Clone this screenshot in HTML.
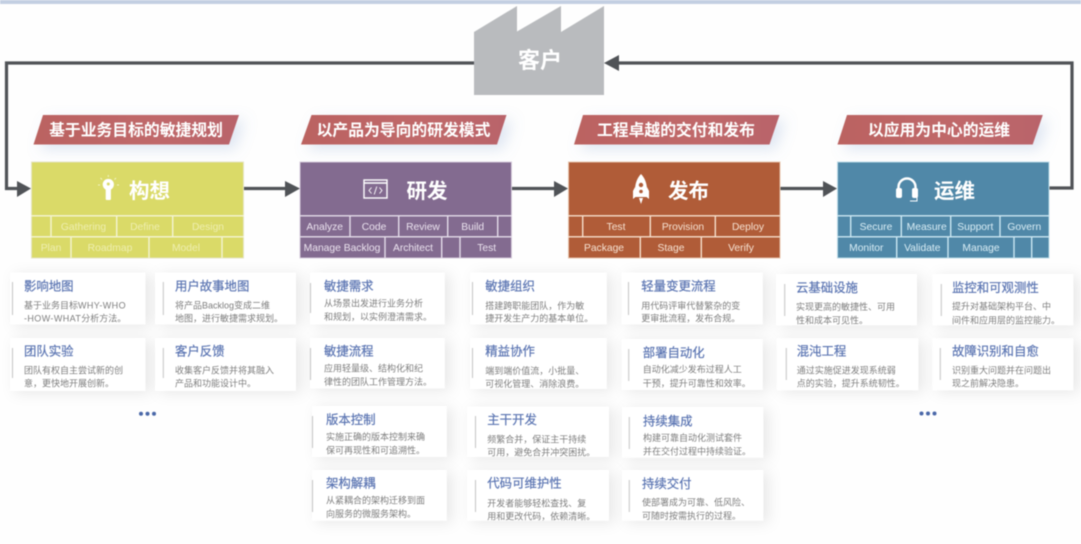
<!DOCTYPE html>
<html lang="zh">
<head>
<meta charset="utf-8">
<title>客户</title>
<style>
html,body{margin:0;padding:0;width:1081px;height:544px;overflow:hidden;background:#fefefe}
svg{display:block;filter:blur(0.5px);font-family:"Liberation Sans","Noto Sans CJK SC",sans-serif}
.t{font-size:12.4px;fill:#5a74b2;stroke:#5a74b2;stroke-width:.2}
.d{font-size:9px;fill:#7e7e7e}
.v{stroke:#c4c4c4;stroke-width:1}
.card{fill:#fff;filter:url(#cs)}
.ban{filter:url(#bs)}
.bt{font-size:15.8px;font-weight:bold;fill:#fff;text-anchor:middle}
.ht{font-size:20.5px;font-weight:bold;fill:#fff}
.ln{stroke:#505357;stroke-width:3.2;fill:none}
.ar{fill:#505357}
.s1 text{fill:#eeeeb0}.s2 text{fill:#ebe3ef}.s3 text{fill:#f6e2d2}.s4 text{fill:#d9edf5}
.s text{font-size:10.3px;text-anchor:middle}
.s1 line{stroke:#f4f4d4}.s2 line{stroke:#e4dcea}.s3 line{stroke:#f6dfcc}.s4 line{stroke:#cbe7f2}
.s line{stroke-width:1.4}
</style>
</head>
<body>
<svg width="1081" height="544" viewBox="0 0 1081 544" xmlns="http://www.w3.org/2000/svg">
<defs>
<filter id="cs" x="-20%" y="-40%" width="145%" height="190%"><feDropShadow dx="5" dy="2" stdDeviation="7" flood-color="#000" flood-opacity=".09"/></filter>
<filter id="bs" x="-10%" y="-40%" width="125%" height="200%"><feDropShadow dx="6" dy="5" stdDeviation="7" flood-color="#7f9fd0" flood-opacity=".25"/></filter>
<linearGradient id="bg" x1="0" x2="1" y1="0" y2="0"><stop offset="0" stop-color="#bb6361"/><stop offset=".6" stop-color="#c0686a"/><stop offset="1" stop-color="#b9646a"/></linearGradient>
</defs>

<rect x="0" y="0" width="1081" height="4" fill="#c3cfe2"/>

<!-- factory -->
<polygon points="474,32 517,6 517,31.5 561,6 561,32 604,6 604,95 474,95" fill="#b9bbbe"/>
<text x="540" y="68" font-size="22" font-weight="bold" fill="#fff" text-anchor="middle">客户</text>

<!-- connectors -->
<polyline class="ln" points="474,63 6.5,63 6.5,188.5 20,188.5"/>
<polygon class="ar" points="17,181 31,188.5 17,197"/>
<line class="ln" x1="244" y1="188.5" x2="288" y2="188.5"/>
<polygon class="ar" points="285,181 300,188.5 285,197"/>
<line class="ln" x1="512" y1="188.5" x2="556" y2="188.5"/>
<polygon class="ar" points="554,181 568,188.5 554,197"/>
<line class="ln" x1="780" y1="188.5" x2="826" y2="188.5"/>
<polygon class="ar" points="823,181 837,188.5 823,197"/>
<polyline class="ln" points="1049,188 1072,188 1072,63 616,63"/>
<polygon class="ar" points="604,63 619,55 619,71"/>

<!-- banners -->
<polygon class="ban" points="43,115 239,115 229,144.5 33.5,144.5" fill="url(#bg)"/>
<text class="bt" x="136" y="135.5">基于业务目标的敏捷规划</text>
<polygon class="ban" points="311.5,115 506.5,115 497,144.5 301,144.5" fill="url(#bg)"/>
<text class="bt" x="403.5" y="135.5">以产品为导向的研发模式</text>
<polygon class="ban" points="583,115 779.5,115 769.5,144.5 574,144.5" fill="url(#bg)"/>
<text class="bt" x="676" y="135.5">工程卓越的交付和发布</text>
<polygon class="ban" points="847,115 1042.8,115 1032.7,144.5 837.5,144.5" fill="url(#bg)"/>
<text class="bt" x="939" y="135.5">以应用为中心的运维</text>

<!-- box 1 -->
<g class="s s1">
<rect x="31.5" y="162" width="212" height="96" fill="#dada68" stroke="#e5e4c4"/>
<line x1="31" x2="244" y1="215.8" y2="215.8"/><line x1="31" x2="244" y1="236.8" y2="236.8"/>
<line x1="51" x2="51" y1="216" y2="236.5"/><line x1="116.7" x2="116.7" y1="216" y2="236.5"/><line x1="172.7" x2="172.7" y1="216" y2="236.5"/>
<line x1="71" x2="71" y1="237" y2="258"/><line x1="149" x2="149" y1="237" y2="258"/><line x1="222" x2="222" y1="237" y2="258"/>
<text x="83.5" y="230">Gathering</text><text x="145" y="230">Define</text><text x="208" y="230">Design</text>
<text x="51" y="251">Plan</text><text x="110" y="251">Roadmap</text><text x="186" y="251">Model</text>
</g>
<text class="ht" x="129" y="198">构想</text>
<g fill="#fff">
<circle cx="108.3" cy="184.5" r="5.6"/><rect x="105.7" y="188" width="5.2" height="12" rx="1"/>
<circle cx="108.3" cy="184" r="1.5" fill="#dada68"/>
<g stroke="#f3f3c4" stroke-width="1" fill="none"><line x1="108.3" y1="175" x2="108.3" y2="177"/><line x1="100.5" y1="178" x2="102" y2="179.5"/><line x1="116" y1="178" x2="114.5" y2="179.5"/><line x1="98" y1="185" x2="100" y2="185"/><line x1="117" y1="185" x2="119" y2="185"/></g>
</g>

<!-- box 2 -->
<g class="s s2">
<rect x="300" y="162" width="211.5" height="96" fill="#836b90" stroke="#d6cbdc"/>
<line x1="300" x2="512" y1="215.8" y2="215.8"/><line x1="300" x2="512" y1="236.8" y2="236.8"/>
<line x1="350" x2="350" y1="216" y2="236.5"/><line x1="398.7" x2="398.7" y1="216" y2="236.5"/><line x1="447.7" x2="447.7" y1="216" y2="236.5"/><line x1="497.7" x2="497.7" y1="216" y2="236.5"/>
<line x1="385" x2="385" y1="237" y2="258"/><line x1="441.7" x2="441.7" y1="237" y2="258"/><line x1="460" x2="460" y1="237" y2="258"/>
<text x="324.7" y="230">Analyze</text><text x="374" y="230">Code</text><text x="423" y="230">Review</text><text x="472.7" y="230">Build</text>
<text x="342" y="251">Manage Backlog</text><text x="413" y="251">Architect</text><text x="486.7" y="251">Test</text>
</g>
<text class="ht" x="406.5" y="198">研发</text>
<g fill="none" stroke="#fff">
<rect x="364" y="180" width="23" height="18" stroke-width="1.4"/>
<line x1="364" y1="183" x2="387" y2="183" stroke-width="1.6"/>
<path d="M371.5 187.5 L369 190.5 L371.5 193.5 M379.5 187.5 L382 190.5 L379.5 193.5 M376.8 186.5 L374.2 194.5" stroke-width=".9"/>
</g>

<!-- box 3 -->
<g class="s s3">
<rect x="568.5" y="162" width="211.5" height="96" fill="#b05c38" stroke="#e6c4ac"/>
<line x1="568" x2="780" y1="215.8" y2="215.8"/><line x1="568" x2="780" y1="236.8" y2="236.8"/>
<line x1="582.7" x2="582.7" y1="216" y2="236.5"/><line x1="650.3" x2="650.3" y1="216" y2="236.5"/><line x1="715.3" x2="715.3" y1="216" y2="236.5"/>
<line x1="640.3" x2="640.3" y1="237" y2="258"/><line x1="701.3" x2="701.3" y1="237" y2="258"/>
<text x="616" y="230">Test</text><text x="683" y="230">Provision</text><text x="748" y="230">Deploy</text>
<text x="604" y="251">Package</text><text x="671" y="251">Stage</text><text x="741" y="251">Verify</text>
</g>
<text class="ht" x="668" y="198">发布</text>
<g fill="#fff">
<path d="M641 174 C645 178 647 184 647 190 L647 197 L635 197 L635 190 C635 184 637 178 641 174Z"/>
<path d="M635 187 L633 191 L633 199 L635.5 197Z M647 187 L649 191 L649 199 L646.5 197Z"/>
<path d="M639 198 L643 198 L641 204Z"/>
<circle cx="641" cy="185" r="2.2" fill="#b05c38"/><circle cx="641" cy="191.5" r="1.8" fill="#b05c38"/>
</g>

<!-- box 4 -->
<g class="s s4">
<rect x="837.5" y="162" width="211.5" height="96" fill="#5088a8" stroke="#bcdbe8"/>
<line x1="837" x2="1049" y1="215.8" y2="215.8"/><line x1="837" x2="1049" y1="236.8" y2="236.8"/>
<line x1="850.7" x2="850.7" y1="216" y2="236.5"/><line x1="901.3" x2="901.3" y1="216" y2="236.5"/><line x1="950.7" x2="950.7" y1="216" y2="236.5"/><line x1="1000" x2="1000" y1="216" y2="236.5"/>
<line x1="896.7" x2="896.7" y1="237" y2="258"/><line x1="948" x2="948" y1="237" y2="258"/><line x1="1014" x2="1014" y1="237" y2="258"/><line x1="1031.7" x2="1031.7" y1="237" y2="258"/>
<text x="876" y="230">Secure</text><text x="926.7" y="230">Measure</text><text x="975.3" y="230">Support</text><text x="1024.3" y="230">Govern</text>
<text x="866.3" y="251">Monitor</text><text x="922.3" y="251">Validate</text><text x="981" y="251">Manage</text>
</g>
<text class="ht" x="934" y="198">运维</text>
<g>
<path d="M898.5 190 L898.5 187 A8.5 8.5 0 0 1 915.5 187 L915.5 190" fill="none" stroke="#fff" stroke-width="2.4"/>
<rect x="896" y="188" width="6" height="10" rx="2" fill="#fff"/>
<rect x="912" y="188" width="6" height="10" rx="2" fill="#fff"/>
<path d="M917 197 L917 201 L910 201" fill="none" stroke="#fff" stroke-width="1"/>
</g>

<!-- cards -->
<rect class="card" x="10" y="272.5" width="135.5" height="52"/>
<rect class="card" x="155" y="272.5" width="141" height="52"/>
<rect class="card" x="10" y="338" width="135.5" height="53"/>
<rect class="card" x="155" y="338" width="141" height="53"/>
<rect class="card" x="310" y="272.5" width="134.7" height="52"/>
<rect class="card" x="310" y="338" width="134.7" height="50.5"/>
<rect class="card" x="312" y="406" width="134.7" height="51"/>
<rect class="card" x="312" y="470" width="134.7" height="50.7"/>
<rect class="card" x="470" y="272.5" width="136.7" height="52"/>
<rect class="card" x="470" y="338" width="136.7" height="51"/>
<rect class="card" x="467" y="406.5" width="142" height="50.5"/>
<rect class="card" x="467" y="470" width="142" height="50.7"/>
<rect class="card" x="621.7" y="272.5" width="141" height="52"/>
<rect class="card" x="621.7" y="339" width="141" height="51"/>
<rect class="card" x="622" y="407" width="141.3" height="50.7"/>
<rect class="card" x="622" y="470" width="141.3" height="50.7"/>
<rect class="card" x="776" y="274" width="141" height="51.3"/>
<rect class="card" x="776.7" y="338.3" width="141.6" height="52"/>
<rect class="card" x="932.3" y="274" width="141" height="51.3"/>
<rect class="card" x="932.3" y="338.3" width="141" height="52"/>

<line class="v" x1="12.5" x2="12.5" y1="282" y2="315"/>
<text class="t" x="24" y="290.5">影响地图</text>
<text class="d" x="24" y="308.3">基于业务目标<tspan letter-spacing=".4">WHY-WHO</tspan></text><text class="d" x="24" y="321.6"><tspan letter-spacing=".4">-HOW-WHAT</tspan>分析方法。</text>
<line class="v" x1="12.5" x2="12.5" y1="348" y2="378"/>
<text class="t" x="24" y="355.5">团队实验</text>
<text class="d" x="24" y="373.3">团队有权自主尝试新的创</text><text class="d" x="24" y="386.6">意，更快地开展创新。</text>

<line class="v" x1="163.3" x2="163.3" y1="282" y2="315"/>
<text class="t" x="175" y="290.5">用户故事地图</text>
<text class="d" x="175" y="308.3">将产品Backlog变成二维</text><text class="d" x="175" y="321.6">地图，进行敏捷需求规划。</text>
<line class="v" x1="163.3" x2="163.3" y1="348" y2="378"/>
<text class="t" x="175" y="355.5">客户反馈</text>
<text class="d" x="175" y="373.3">收集客户反馈并将其融入</text><text class="d" x="175" y="386.6">产品和功能设计中。</text>

<line class="v" x1="310.5" x2="310.5" y1="283" y2="313"/>
<text class="t" x="324" y="290.5">敏捷需求</text>
<text class="d" x="324" y="306.6">从场景出发进行业务分析</text><text class="d" x="324" y="320">和规划，以实例澄清需求。</text>
<line class="v" x1="310.5" x2="310.5" y1="348" y2="380"/>
<text class="t" x="324" y="355.5">敏捷流程</text>
<text class="d" x="324" y="371.6">应用轻量级、结构化和纪</text><text class="d" x="324" y="385">律性的团队工作管理方法。</text>

<line class="v" x1="312.5" x2="312.5" y1="416" y2="448"/>
<text class="t" x="326" y="424.2">版本控制</text>
<text class="d" x="326" y="440">实施正确的版本控制来确</text><text class="d" x="326" y="453.3">保可再现性和可追溯性。</text>
<line class="v" x1="312.5" x2="312.5" y1="480" y2="512"/>
<text class="t" x="326" y="487.5">架构解耦</text>
<text class="d" x="326" y="503.6">从紧耦合的架构迁移到面</text><text class="d" x="326" y="517">向服务的微服务架构。</text>

<line class="v" x1="472.5" x2="472.5" y1="282" y2="315"/>
<text class="t" x="485.3" y="290.5">敏捷组织</text>
<text class="d" x="485.3" y="309">搭建跨职能团队，作为敏</text><text class="d" x="485.3" y="321.6">捷开发生产力的基本单位。</text>
<line class="v" x1="472.5" x2="472.5" y1="348" y2="378"/>
<text class="t" x="485.3" y="355.5">精益协作</text>
<text class="d" x="485.3" y="374">端到端价值流，小批量、</text><text class="d" x="485.3" y="387">可视化管理、消除浪费。</text>

<line class="v" x1="475.5" x2="475.5" y1="416" y2="448"/>
<text class="t" x="487.3" y="424.2">主干开发</text>
<text class="d" x="487.3" y="442.3">频繁合并，保证主干持续</text><text class="d" x="487.3" y="455.6">可用，避免合并冲突困扰。</text>
<line class="v" x1="475.5" x2="475.5" y1="480" y2="512"/>
<text class="t" x="487.3" y="487.5">代码可维护性</text>
<text class="d" x="487.3" y="506.3">开发者能够轻松查找、复</text><text class="d" x="487.3" y="519.6">用和更改代码，依赖清晰。</text>

<line class="v" x1="628.5" x2="628.5" y1="282" y2="315"/>
<text class="t" x="641.3" y="290.5">轻量变更流程</text>
<text class="d" x="641.3" y="309">用代码评审代替繁杂的变</text><text class="d" x="641.3" y="321.6">更审批流程，发布合规。</text>
<line class="v" x1="628.7" x2="628.7" y1="349" y2="381"/>
<text class="t" x="642.7" y="356.8">部署自动化</text>
<text class="d" x="642.7" y="372.6">自动化减少发布过程人工</text><text class="d" x="642.7" y="386.3">干预，提升可靠性和效率。</text>

<line class="v" x1="629.3" x2="629.3" y1="417" y2="449"/>
<text class="t" x="643" y="425.5">持续集成</text>
<text class="d" x="643" y="441">构建可靠自动化测试套件</text><text class="d" x="643" y="454.3">并在交付过程中持续验证。</text>
<line class="v" x1="629.3" x2="629.3" y1="480" y2="512"/>
<text class="t" x="642" y="487.8">持续交付</text>
<text class="d" x="642" y="505.6">使部署成为可靠、低风险、</text><text class="d" x="642" y="519">可随时按需执行的过程。</text>

<line class="v" x1="784.7" x2="784.7" y1="284" y2="316"/>
<text class="t" x="796" y="291.8">云基础设施</text>
<text class="d" x="796" y="310">实现更高的敏捷性、可用</text><text class="d" x="796" y="323.3">性和成本可见性。</text>
<line class="v" x1="786.3" x2="786.3" y1="348" y2="380"/>
<text class="t" x="796.7" y="355.5">混沌工程</text>
<text class="d" x="796.7" y="373.3">通过实施促进发现系统弱</text><text class="d" x="796.7" y="386.6">点的实验，提升系统韧性。</text>

<line class="v" x1="941.3" x2="941.3" y1="284" y2="316"/>
<text class="t" x="952" y="291.8">监控和可观测性</text>
<text class="d" x="952" y="309.3">提升对基础架构平台、中</text><text class="d" x="952" y="323.3">间件和应用层的监控能力。</text>
<line class="v" x1="940.3" x2="940.3" y1="348" y2="380"/>
<text class="t" x="952" y="355.5">故障识别和自愈</text>
<text class="d" x="952" y="373.3">识别重大问题并在问题出</text><text class="d" x="952" y="386.6">现之前解决隐患。</text>

<g fill="#4a68a8">
<circle cx="141" cy="413.7" r="2"/><circle cx="147.5" cy="413.7" r="2"/><circle cx="154" cy="413.7" r="2"/>
<circle cx="921.5" cy="413.5" r="2"/><circle cx="928" cy="413.5" r="2"/><circle cx="934.5" cy="413.5" r="2"/>
</g>
</svg>
</body>
</html>
